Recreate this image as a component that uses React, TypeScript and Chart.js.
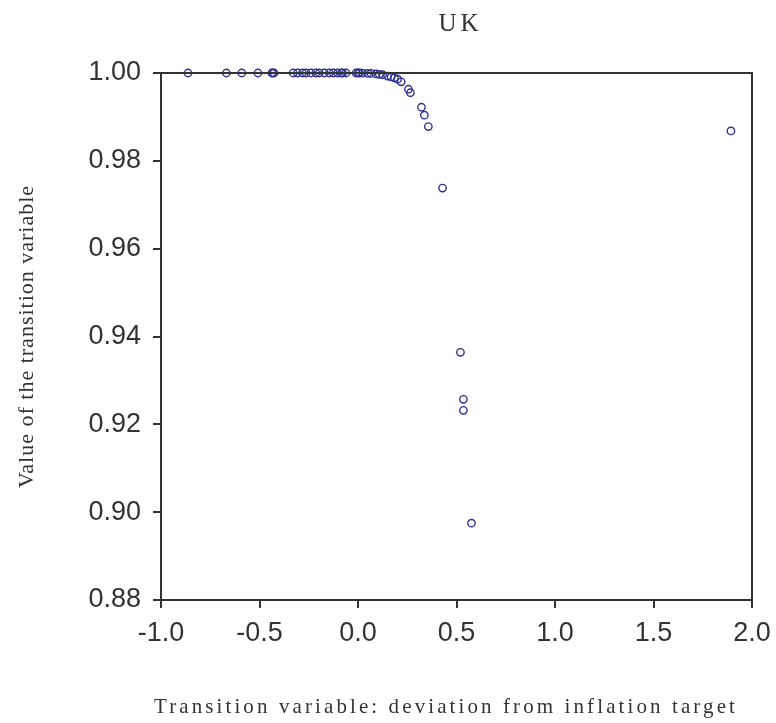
import React, { useEffect, useRef } from "react";
import { Chart, registerables } from "chart.js";

Chart.register(...registerables);

const chartTitle = "UK";
const xAxisTitle = "Transition variable: deviation from inflation target";
const yAxisTitle = "Value of the transition variable";

const xValues = [
  -0.863, -0.668, -0.59, -0.508, -0.437, -0.434, -0.426, -0.329, -0.307, -0.282,
  -0.264, -0.239, -0.214, -0.197, -0.171, -0.146, -0.126, -0.104, -0.085, -0.078,
  -0.061, -0.01, 0.0, 0.007, 0.023, 0.049, 0.066, 0.092, 0.108, 0.125,
  0.15, 0.168, 0.185, 0.201, 0.219, 0.256, 0.266, 0.322, 0.337, 0.357,
  0.429, 0.52, 0.535, 0.535, 0.576, 1.893,
];
const yValues = [
  1.0, 1.0, 1.0, 1.0, 1.0, 1.0, 1.0, 1.0, 1.0, 1.0,
  1.0, 1.0, 1.0, 1.0, 1.0, 1.0, 1.0, 1.0, 1.0, 1.0,
  1.0, 1.0, 1.0, 1.0, 0.99995, 0.9999, 0.9999, 0.9998, 0.9997, 0.9996,
  0.9993, 0.9991, 0.9989, 0.9986, 0.998, 0.9963, 0.9955, 0.9922, 0.9904, 0.9878,
  0.9738, 0.9364, 0.9257, 0.9232, 0.8975, 0.9868,
];

const xTicks = [-1.0, -0.5, 0.0, 0.5, 1.0, 1.5, 2.0];
const yTicks = [0.88, 0.9, 0.92, 0.94, 0.96, 0.98, 1.0];

const TEXT = "#333333";
const AXIS = "#333333";
const POINT = "#2e3192";

const framePlugin = {
  id: "frameAndTitles",
  afterDatasetsDraw(chart: any) {
    const { ctx, chartArea } = chart;
    const { left, right, top, bottom } = chartArea;
    ctx.save();
    ctx.strokeStyle = AXIS;
    ctx.lineWidth = 2;
    ctx.beginPath();
    ctx.moveTo(left, top);
    ctx.lineTo(right, top);
    ctx.lineTo(right, bottom);
    ctx.stroke();

    ctx.fillStyle = TEXT;
    ctx.textAlign = "center";
    ctx.textBaseline = "middle";
    // title
    ctx.font = '25px "Liberation Serif", "DejaVu Serif", serif';
    (ctx as any).letterSpacing = "4px";
    ctx.fillText(chartTitle, (left + right) / 2 + 4, 24);
    // x axis title
    ctx.font = '21px "Liberation Serif", "DejaVu Serif", serif';
    (ctx as any).letterSpacing = "3.1px";
    ctx.fillText(xAxisTitle, 446, 707);
    // y axis title
    (ctx as any).letterSpacing = "1px";
    ctx.font = '22px "Liberation Serif", "DejaVu Serif", serif';
    ctx.translate(27, (top + bottom) / 2);
    ctx.rotate(-Math.PI / 2);
    ctx.fillText(yAxisTitle, 0, 0);
    ctx.restore();
  },
};

export default function App() {
  const canvasRef = useRef<HTMLCanvasElement | null>(null);

  useEffect(() => {
    const canvas = canvasRef.current;
    if (!canvas) return;
    const points = xValues.map((x, i) => ({ x, y: yValues[i] }));
    const chart = new Chart(canvas, {
      type: "scatter",
      data: {
        datasets: [
          {
            data: points,
            pointStyle: "circle",
            pointRadius: 3.7,
            pointBorderWidth: 1.4,
            pointBorderColor: POINT,
            pointBackgroundColor: "rgba(0,0,0,0)",
            clip: false as any,
          },
        ],
      },
      options: {
        animation: false,
        responsive: false,
        maintainAspectRatio: false,
        layout: { padding: { top: 73, right: 24, left: 0, bottom: 0 } },
        plugins: {
          legend: { display: false },
          tooltip: { enabled: false },
          title: { display: false },
        },
        scales: {
          x: {
            type: "linear",
            min: -1,
            max: 2,
            afterFit: (scale: any) => {
              scale.height = 123;
              scale.paddingLeft = 0;
              scale.paddingRight = 0;
            },
            afterBuildTicks: (scale: any) => {
              scale.ticks = xTicks.map((v) => ({ value: v }));
            },
            ticks: {
              color: TEXT,
              font: { family: '"Liberation Sans", Arial, sans-serif', size: 27 },
              padding: 9,
              maxRotation: 0,
              autoSkip: false,
              callback: (v: any) => Number(v).toFixed(1),
            },
            grid: {
              drawOnChartArea: false,
              drawTicks: true,
              tickLength: 8,
              color: AXIS,
              lineWidth: 2,
            },
            border: { display: true, color: AXIS, width: 2 },
          },
          y: {
            type: "linear",
            min: 0.88,
            max: 1.0,
            afterFit: (scale: any) => {
              scale.width = 161;
              scale.paddingTop = 0;
              scale.paddingBottom = 0;
            },
            afterBuildTicks: (scale: any) => {
              scale.ticks = yTicks.map((v) => ({ value: v }));
            },
            ticks: {
              color: TEXT,
              font: { family: '"Liberation Sans", Arial, sans-serif', size: 27 },
              padding: 12,
              autoSkip: false,
              callback: (v: any) => Number(v).toFixed(2),
            },
            grid: {
              drawOnChartArea: false,
              drawTicks: true,
              tickLength: 8,
              color: AXIS,
              lineWidth: 2,
            },
            border: { display: true, color: AXIS, width: 2 },
          },
        },
      },
      plugins: [framePlugin],
    });
    return () => chart.destroy();
  }, []);

  return (
    <div style={{ position: "absolute", left: 0, top: 0, width: 776, height: 723, background: "#fff" }}>
      <canvas ref={canvasRef} width={776} height={723} style={{ width: 776, height: 723, display: "block" }} />
    </div>
  );
}
